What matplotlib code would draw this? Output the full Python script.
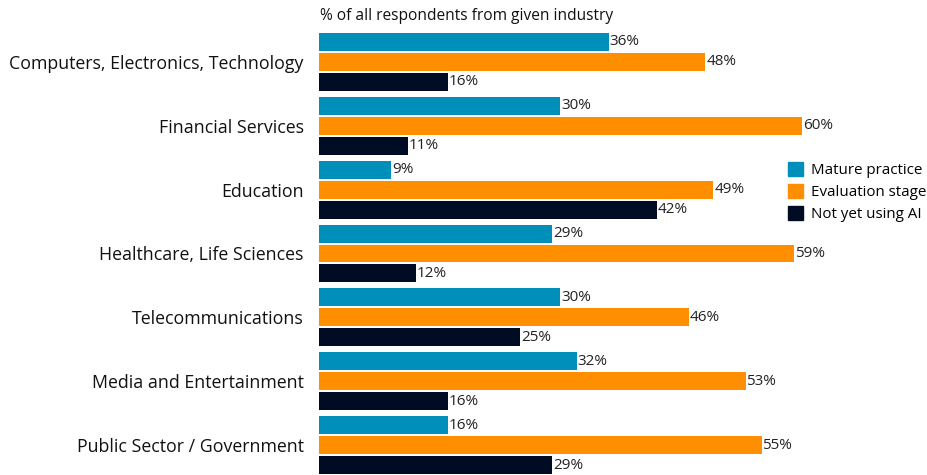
import matplotlib
matplotlib.use("Agg")
import matplotlib.pyplot as plt
from matplotlib.patches import Patch

categories = ["Computers, Electronics, Technology", "Financial Services", "Education",
              "Healthcare, Life Sciences", "Telecommunications", "Media and Entertainment",
              "Public Sector / Government"]
series_names = ["Mature practice", "Evaluation stage", "Not yet using AI"]
mature = [36, 30, 9, 29, 30, 32, 16]
evaluation = [48, 60, 49, 59, 46, 53, 55]
not_yet = [16, 11, 42, 12, 25, 16, 29]
colors = ["#008FBA", "#FF8F00", "#000B24"]
title = "% of all respondents from given industry"

plt.rcParams['font.family'] = ['Open Sans', 'DejaVu Sans']

fig = plt.figure(figsize=(9.28, 4.75), dpi=100)
W, H = 928, 475
left_px, right_px = 319, 802
top_px, bot_px = 33, 474
ax = fig.add_axes([left_px / W, 1 - bot_px / H, (right_px - left_px) / W, (bot_px - top_px) / H])

pitch = 3.2
h = 0.9
centers = [i * pitch for i in range(len(categories))]
for si, vals in enumerate([mature, evaluation, not_yet]):
    ys = [c + (si - 1) for c in centers]
    ax.barh(ys, vals, height=h, color=colors[si], label=series_names[si])
    for y, v in zip(ys, vals):
        ax.text(v + 0.1, y, f"{v}%", va="center", ha="left", fontsize=11, color="#222222", clip_on=False)

ax.set_xlim(0, 60)
ax.set_ylim(centers[-1] + 1 + h / 2, -1 - h / 2)
ax.set_yticks(centers)
ax.set_yticklabels(categories, fontsize=12.8, color="#111111")
ax.tick_params(axis="y", length=0, pad=11)
ax.set_xticks([])
for s in ax.spines.values():
    s.set_visible(False)

fig.text(320 / W, 1 - 16 / H, title, ha="left", va="center", fontsize=11.2, color="#111111")

handles = [Patch(color=c, label=n) for c, n in zip(colors, series_names)]
fig.legend(handles=handles, loc="center left", bbox_to_anchor=(785 / W, 1 - 192 / H),
           frameon=False, fontsize=10.9, handlelength=1.0, handleheight=1.0,
           handletextpad=0.5, labelspacing=0.4, borderaxespad=0, borderpad=0.2)

fig.savefig("out.png", dpi=100)
